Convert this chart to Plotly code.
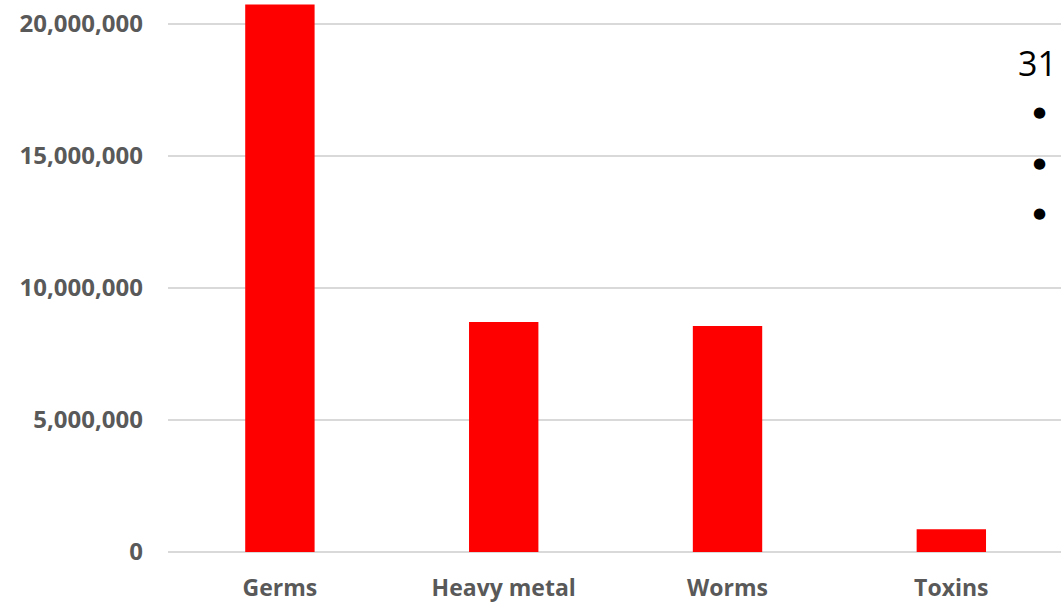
import plotly.graph_objects as go

categories = ["Germs", "Heavy metal", "Worms", "Toxins"]
values = [20740000, 8710000, 8560000, 860000]
y_ticks = [0, 5000000, 10000000, 15000000, 20000000]
side_title = "31"
side_bullets = ["●", "●", "●"]

fig = go.Figure()
fig.add_trace(go.Bar(
    x=categories, y=values, width=0.31,
    marker=dict(color="#ff0000", line=dict(width=0)),
))

fig.update_layout(
    width=1061, height=603,
    margin=dict(l=168, r=0, t=0, b=51),
    paper_bgcolor="white", plot_bgcolor="white",
    showlegend=False,
    font=dict(family="Open Sans", color="#595959"),
    xaxis=dict(
        range=[-0.5, 3.49],
        showgrid=False, showline=False, zeroline=False,
        tickfont=dict(family="Open Sans", size=23, color="#595959", weight="bold"),
        ticklabelstandoff=20,
    ),
    yaxis=dict(
        range=[0, 20910000],
        tickvals=y_ticks, tickformat=",d",
        showgrid=True, gridcolor="#d9d9d9", gridwidth=2,
        zeroline=True, zerolinecolor="#d9d9d9", zerolinewidth=2,
        showline=False,
        tickfont=dict(family="Open Sans", size=24, color="#595959", weight="bold"),
        ticklabelstandoff=24,
    ),
)

fig.add_annotation(
    text=side_title, xref="paper", yref="paper",
    x=(1059 - 168) / 893, y=(552 - 63) / 552,
    xanchor="right", yanchor="middle", showarrow=False,
    font=dict(family="Open Sans", size=34, color="#000000"),
)
for i, b in enumerate(side_bullets):
    fig.add_annotation(
        text=b, xref="paper", yref="paper",
        x=(1039 - 168) / 893, y=(552 - (112 + 50.5 * i)) / 552,
        xanchor="center", yanchor="middle", showarrow=False,
        font=dict(family="DejaVu Sans", size=15, color="#000000"),
    )

fig.write_html("out.html")
